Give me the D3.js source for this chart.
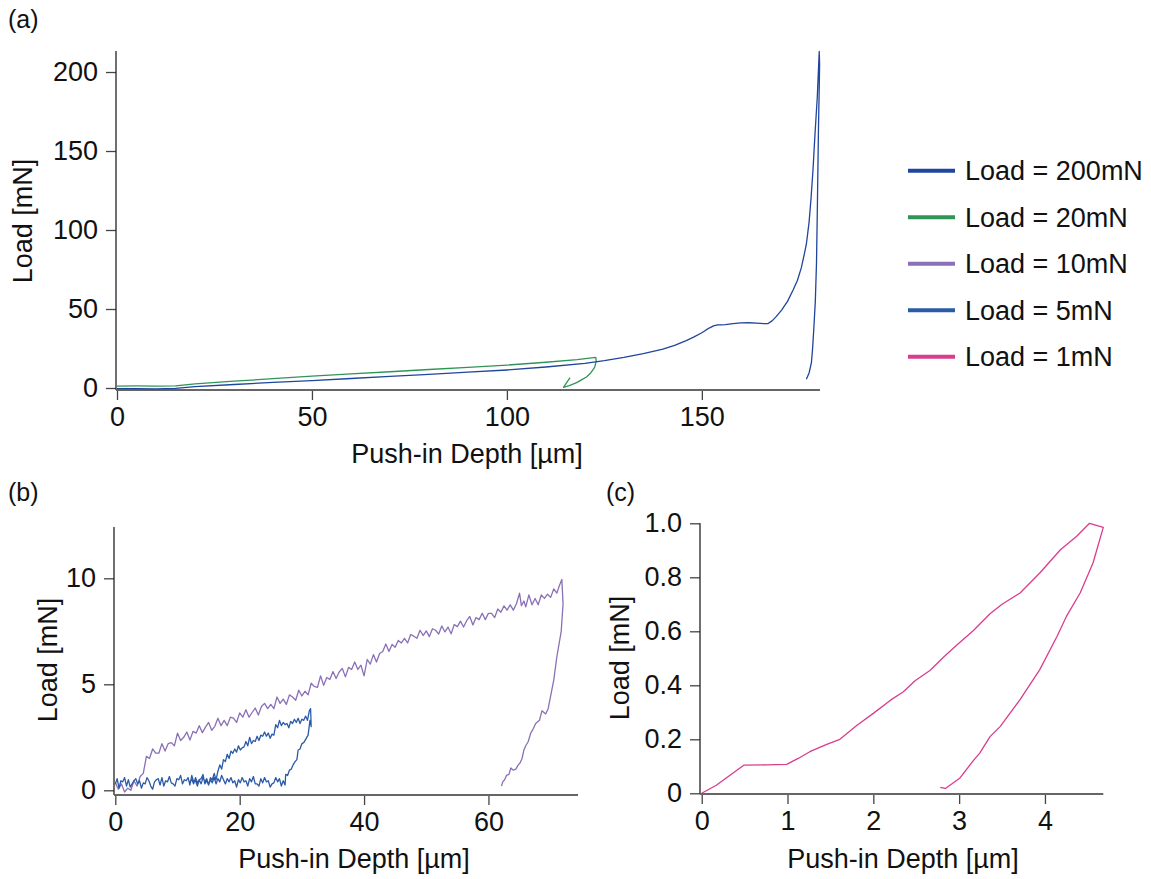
<!DOCTYPE html>
<html><head><meta charset="utf-8">
<script src="https://cdn.jsdelivr.net/npm/d3@7"></script>
<style>
html,body{margin:0;padding:0;background:#fff;}
svg{display:block;font-family:"Liberation Sans",Arial,sans-serif;}
</style></head>
<body><svg id="c" width="1151" height="879"></svg>
<script>
// ---------- DATA ----------
const seriesNames = ["Load = 200mN","Load = 20mN","Load = 10mN","Load = 5mN","Load = 1mN"];
const seriesColors = ["#1f459c","#2e9556","#8a70b7","#2b5aa8","#d93d8d"];

const ticksA_x = [0,50,100,150];
const ticksA_y = [0,50,100,150,200];
const ticksB_x = [0,20,40,60];
const ticksB_y = [0,5,10];
const ticksC_x = [0,1,2,3,4];
const ticksC_y = [0,0.2,0.4,0.6,0.8,1.0];
const ticksC_yLabels = ["0","0.2","0.4","0.6","0.8","1.0"];

// Panel (a): 200 mN (depth µm, load mN)
const load200 = [[0,-0.4],[5,-0.4],[10,-0.5],[15,-0.3],[20,0.9],[30,2.2],[40,3.5],[50,4.7],[60,6.0],[70,7.3],[80,8.6],[90,10.0],[100,11.4],[110,13.3],[120,15.6],[125,17.3],[130,19.4],[135,21.8],[140,24.6],[143,27.0],[146,30.0],[148,32.4],[150,35.0],[151,36.6],[152,38.1],[153,39.3],[154,39.9],[155,40.0],[156,40.1],[158,40.7],[160,41.2],[162,41.3],[164,41.0],[166,40.7],[167,40.8],[168,42.5],[169,45],[170.5,49.5],[172,55],[173.4,62],[174.5,68],[175.5,76],[176.3,85],[176.8,91],[177.5,105],[178,120],[178.5,138],[179,160],[179.6,184],[180.1,213],
  [180.2,205],[180.1,190],[179.9,163],[179.6,110],[179.4,79],[179.1,55],[178.7,37],[178.4,25],[178.1,16],[177.5,9.5],[176.8,5.5]];
// Panel (a): 20 mN
const load20 = [[0,1.2],[5,1.3],[10,1.2],[15,1.4],[20,2.6],[30,4.3],[40,5.9],[50,7.5],[60,8.9],[70,10.3],[80,11.7],[90,13.1],[100,14.5],[110,16.3],[118,17.9],[122.8,19.4],
  [122.9,17],[122.5,13],[121.5,9.5],[120.4,7],[119,5],[117.9,3.4],[116,1.5],[114.5,0.4],[116.2,6.5]];

// Panel (b): 10 mN
const load10 = [[0.0,0.35],[0.5,0.05],[1.0,0.3],[1.5,-0.08],[2.0,0.1],[2.5,0.0],[3.0,0.45],[3.5,0.2],[4.0,0.65],[4.5,0.8],[5.0,1.6],[5.5,1.5],[6.0,1.95],[6.5,1.75],[7.0,1.75],[7.5,2.2],[8.0,1.85],[8.5,2.2],[9.0,2.25],[9.5,2.1],[10.0,2.7],[10.5,2.35],[11.0,2.5],[11.5,2.75],[12.0,2.37],[12.5,2.78],[13.0,2.7],[13.5,3.05],[14.0,2.72],[14.5,2.98],[15.0,3.2],[15.5,2.83],[16.0,3.02],[16.5,3.4],[17.0,3.05],[17.5,3.3],[18.0,3.05],[18.5,3.45],[19.0,3.4],[19.5,3.2],[20.0,3.65],[20.5,3.45],[21.0,3.8],[21.5,3.45],[22.0,3.67],[22.5,3.88],[23.0,3.55],[23.5,3.95],[24.0,4.1],[24.5,3.85],[25.0,4.05],[25.5,3.85],[26.0,4.4],[26.5,4.1],[27.0,4.3],[27.5,4.05],[28.0,4.5],[28.5,4.4],[29.0,4.25],[29.5,4.72],[30.0,4.45],[30.5,4.67],[31.0,4.5],[31.5,5.05],[32.0,4.9],[32.5,4.85],[33.0,5.4],[33.5,4.95],[34.0,5.32],[34.5,5.23],[35.0,5.6],[35.5,5.27],[36.0,5.58],[36.5,5.75],[37.0,5.35],[37.5,5.8],[38.0,5.7],[38.5,6.05],[39.0,5.7],[39.5,5.9],[40.0,5.4],[40.5,6.17],[41.0,5.95],[41.5,6.4],[42.0,6.05],[42.5,6.45],[43.0,6.55],[43.5,6.9],[44.0,6.55],[44.5,6.88],[45.0,6.75],[45.5,7.07],[46.0,6.95],[46.5,7.17],[47.0,6.95],[47.5,7.35],[48.0,7.27],[48.5,7.17],[49.0,7.55],[49.5,7.3],[50.0,7.52],[50.5,7.25],[51.0,7.62],[51.5,7.55],[52.0,7.37],[52.5,7.75],[53.0,7.47],[53.5,7.7],[54.0,7.38],[54.5,7.82],[55.0,7.72],[55.5,7.98],[56.0,7.7],[56.5,8.0],[57.0,8.2],[57.5,7.8],[58.0,8.15],[58.5,8.05],[59.0,8.35],[59.5,8.05],[60.0,8.35],[60.5,8.35],[61.0,8.15],[61.5,8.55],[62.0,8.4],[62.5,8.7],[63.0,8.5],[63.5,8.75],[64.0,8.5],[64.5,8.8],[65.0,9.3],[65.3,8.71],[65.7,8.93],[66.0,8.65],[66.5,9.22],[67.0,8.75],[67.5,9.05],[68.0,8.75],[68.5,9.22],[69.0,9.05],[69.5,9.25],[70.0,9.1],[70.5,9.5],[71.0,9.3],[71.4,9.65],[71.8,9.95],
  [72.0,8.8],[71.7,7.5],[71.0,6.3],[70.5,5.2],[69.9,4.3],[69.6,3.85],[69.2,3.6],[68.6,3.75],[68.2,3.3],[67.6,3.15],[67.2,2.9],[66.8,2.7],[66.4,2.3],[66.0,2.1],[65.7,1.9],[65.4,1.5],[65.1,1.3],[64.8,1.2],[64.4,1.0],[64.0,0.95],[63.6,1.05],[63.3,0.75],[62.9,0.7],[62.6,0.5],[62.3,0.4],[62.1,0.2]];

// Panel (b): 5 mN
const load5 = [[0.0,0.3],[0.3,0.55],[0.6,0.1],[0.9,0.45],[1.2,0.4],[1.5,0.6],[1.8,0.2],[2.1,0.5],[2.4,0.15],[2.7,0.3],[3.0,0.45],[3.3,0.55],[3.6,0.3],[3.9,0.45],[4.2,0.1],[4.5,0.35],[4.8,0.3],[5.1,0.6],[5.4,0.45],[5.7,0.2],[6.0,0.05],[6.3,0.4],[6.6,0.5],[6.9,0.55],[7.2,0.25],[7.5,0.6],[7.8,0.2],[8.1,0.45],[8.4,0.4],[8.7,0.65],[9.0,0.35],[9.3,0.3],[9.6,0.2],[9.9,0.55],[10.2,0.5],[10.5,0.7],[10.8,0.3],[11.1,0.5],[11.4,0.45],[11.7,0.6],[12.0,0.25],[12.3,0.7],[12.6,0.4],[12.9,0.45],[13.2,0.2],[13.5,0.5],[13.8,0.55],[14.1,0.75],[14.4,0.3],[14.7,0.45],[15.0,0.25],[15.3,0.6],[15.6,0.5],[15.9,0.8],[16.2,0.5],[16.5,0.9],[16.8,1.2],[17.1,1.0],[17.4,1.45],[17.7,1.35],[18.0,1.7],[18.3,1.5],[18.6,1.85],[18.9,1.75],[19.2,1.95],[19.5,1.8],[19.8,2.1],[20.1,1.9],[20.4,2.0],[20.7,2.05],[21.0,2.3],[21.3,2.1],[21.6,2.5],[21.9,2.2],[22.2,2.35],[22.5,2.3],[22.8,2.55],[23.1,2.35],[23.4,2.6],[23.7,2.55],[24.0,2.75],[24.3,2.55],[24.6,2.7],[24.9,2.45],[25.2,2.65],[25.5,2.6],[25.8,3.1],[26.1,2.95],[26.4,3.3],[26.7,3.05],[27.0,3.2],[27.3,3.1],[27.6,3.15],[27.9,2.95],[28.2,3.25],[28.5,3.15],[28.8,3.35],[29.1,3.2],[29.4,3.4],[29.7,3.15],[30.0,3.35],[30.3,3.3],[30.6,3.5],[30.9,3.3],[31.2,3.75],[31.4,3.85],
  [31.5,3.0],[31.3,3.3],[31.0,2.6],[30.7,2.45],[30.3,2.25],[30.0,2.2],[29.7,1.95],[29.4,1.9],[29.2,1.45],[28.9,1.35],[28.6,1.2],[28.3,1.0],[28.0,0.95],[27.7,0.7],[27.4,0.75],[27.3,0.25],[27.0,0.45],[26.7,0.2],[26.4,0.55],[26.1,0.4],[25.8,0.6],[25.5,0.35],[25.2,0.3],[24.9,0.15],[24.6,0.45],[24.3,0.4],[24.0,0.6],[23.7,0.35],[23.4,0.55],[23.1,0.2],[22.8,0.3],[22.5,0.3],[22.2,0.65],[21.9,0.4],[21.6,0.55],[21.3,0.2],[21.0,0.45],[20.7,0.4],[20.4,0.6],[20.1,0.35],[19.8,0.5],[19.5,0.15],[19.2,0.45],[18.9,0.35],[18.6,0.6],[18.3,0.4],[18.0,0.55],[17.7,0.3],[17.4,0.5],[17.1,0.7],[16.8,0.4],[16.5,0.55],[16.2,0.3],[15.9,0.6],[15.6,0.35],[15.3,0.5],[15.0,0.25],[14.7,0.55],[14.4,0.4],[14.1,0.6],[13.8,0.3],[13.5,0.5],[13.2,0.35],[12.9,0.6],[12.6,0.3],[12.3,0.5],[12.0,0.4]];

// Panel (c): 1 mN
const load1 = [[0,0],[0.17,0.03],[0.33,0.067],[0.49,0.104],[0.75,0.105],[0.99,0.107],[1.13,0.13],[1.26,0.154],[1.45,0.18],[1.61,0.2],[1.81,0.252],[2.0,0.296],[2.2,0.345],[2.35,0.376],[2.49,0.418],[2.66,0.455],[2.82,0.505],[2.97,0.548],[3.17,0.604],[3.36,0.665],[3.5,0.7],[3.71,0.742],[3.94,0.816],[4.18,0.902],[4.37,0.952],[4.52,1.0],[4.68,0.985],
  [4.56,0.853],[4.41,0.742],[4.25,0.655],[4.14,0.581],[3.94,0.458],[3.71,0.347],[3.48,0.248],[3.36,0.21],[3.24,0.149],[3.17,0.123],[3.01,0.057],[2.84,0.018],[2.78,0.022]];

// ---------- DRAW ----------
const svg = d3.select("#c");
const FS = 27;

function panel(o){
  const x = d3.scaleLinear().domain(o.xd).range(o.xr);
  const y = d3.scaleLinear().domain(o.yd).range(o.yr);
  const g = svg.append("g");
  // y axis
  const ya = d3.axisLeft(y).tickValues(o.yt).tickSize(10).tickPadding(8)
      .tickFormat((d,i)=> o.ytl ? o.ytl[i] : d3.format("d")(d));
  const yg = g.append("g").attr("transform",`translate(${o.yAxisX},0)`).call(ya);
  yg.select(".domain").remove();
  yg.selectAll(".tick line").attr("stroke","#444").attr("stroke-width",1.3);
  yg.selectAll(".tick text").attr("font-size",FS).attr("fill","#111").attr("font-family","Liberation Sans, Arial, sans-serif");
  g.append("line").attr("x1",o.yAxisX).attr("x2",o.yAxisX).attr("y1",y(o.yd[1])).attr("y2",o.xAxisY)
    .attr("stroke","#222").attr("stroke-width",1.3);
  // x axis
  const xa = d3.axisBottom(x).tickValues(o.xt).tickSize(10).tickPadding(7).tickFormat(d3.format("d"));
  const xg = g.append("g").attr("transform",`translate(0,${o.xAxisY})`).call(xa);
  xg.select(".domain").remove();
  xg.selectAll(".tick line").attr("stroke","#444").attr("stroke-width",1.3);
  xg.selectAll(".tick text").attr("font-size",FS).attr("fill","#111").attr("font-family","Liberation Sans, Arial, sans-serif");
  g.append("line").attr("x1",o.yAxisX).attr("x2",x(o.xd[1])).attr("y1",o.xAxisY).attr("y2",o.xAxisY)
    .attr("stroke","#666").attr("stroke-width",2.2);
  // titles
  g.append("text").attr("x",o.xTitleX).attr("y",o.xTitleY).attr("text-anchor","middle")
    .attr("font-size",FS).attr("fill","#111").text("Push-in Depth [µm]");
  g.append("text").attr("transform",`translate(${o.yTitleX},${o.yTitleY}) rotate(-90)`).attr("text-anchor","middle")
    .attr("font-size",FS).attr("fill","#111").text("Load [mN]");
  g.append("text").attr("x",o.labX).attr("y",o.labY).attr("font-size",25).attr("fill","#111").text(o.label);
  const line = d3.line().x(d=>x(d[0])).y(d=>y(d[1]));
  o.series.forEach(s=>{
    g.append("path").datum(s.data).attr("d",line).attr("fill","none")
      .attr("stroke",s.color).attr("stroke-width",1.3).attr("stroke-linejoin","round");
  });
}

panel({xd:[0,180.3], xr:[117,820], yd:[0,213.3], yr:[388,51], xt:ticksA_x, yt:ticksA_y,
  yAxisX:116, xAxisY:390, xTitleX:467, xTitleY:463, yTitleX:32, yTitleY:221, labX:8, labY:28, label:"(a)",
  series:[{data:load20,color:seriesColors[1]},{data:load200,color:seriesColors[0]}]});

panel({xd:[0,74.4], xr:[115.3,578], yd:[0,12.42], yr:[790.3,527], xt:ticksB_x, yt:ticksB_y,
  yAxisX:114, xAxisY:795, xTitleX:354, xTitleY:868, yTitleX:57, yTitleY:660, labX:8, labY:501, label:"(b)",
  series:[{data:load10,color:seriesColors[2]},{data:load5,color:seriesColors[3]}]});

panel({xd:[0,4.68], xr:[701.7,1103.3], yd:[0,1.0], yr:[793.3,523.3], xt:ticksC_x, yt:ticksC_y, ytl:ticksC_yLabels,
  yAxisX:700, xAxisY:794, xTitleX:903, xTitleY:868, yTitleX:629, yTitleY:658, labX:606, labY:501, label:"(c)",
  series:[{data:load1,color:seriesColors[4]}]});

// legend
const leg = svg.append("g");
const legY = d3.scalePoint().domain(seriesNames).range([170.7,356.7]);
seriesNames.forEach((n,i)=>{
  leg.append("line").attr("x1",908).attr("x2",955).attr("y1",legY(n)).attr("y2",legY(n))
    .attr("stroke",seriesColors[i]).attr("stroke-width",4);
  leg.append("text").attr("x",965).attr("y",legY(n)).attr("dy","0.35em").attr("font-size",FS).attr("fill","#111").text(n);
});
</script></body></html>
